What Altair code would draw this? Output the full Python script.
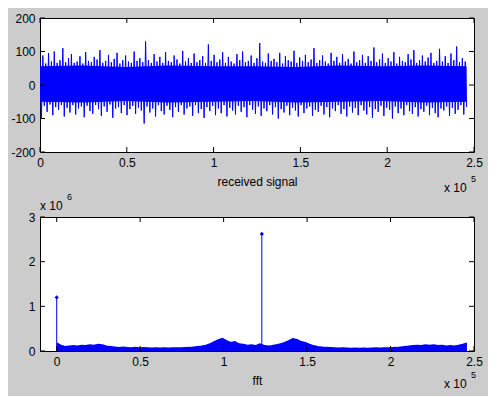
import altair as alt
import numpy as np
import pandas as pd

N_SAMPLES = 245760

# received signal: alternating peak / trough envelope
sig_upper = [
    72, 88, 64, 95, 70, 100, 66, 74, 110, 68,
    80, 92, 66, 70, 86, 64, 98, 72, 68, 84,
    76, 104, 66, 72, 90, 68, 78, 96, 64, 74,
    88, 70, 66, 100, 72, 80, 68, 130, 74, 66,
    92, 70, 84, 66, 98, 72, 68, 88, 76, 64,
    102, 70, 80, 66, 94, 68, 74, 86, 66, 121,
    72, 90, 68, 76, 98, 66, 84, 70, 64, 92,
    74, 100, 68, 72, 88, 66, 80, 125, 70, 66,
    94, 72, 78, 68, 96, 64, 86, 74, 70, 102,
    66, 82, 72, 90, 68, 76, 110, 66, 74, 88,
    70, 64, 96, 72, 84, 66, 92, 70, 78, 64,
    100, 68, 74, 90, 66, 86, 72, 112, 68, 76,
    94, 66, 80, 70, 98, 64, 84, 72, 68, 92,
    76, 104, 66, 74, 88, 70, 82, 96, 66, 72,
    108, 70, 86, 66, 94, 74, 115, 68, 80, 70]
sig_lower = [
    -98, -62, -80, -58, -90, -66, -74, -60, -94, -68,
    -82, -60, -88, -70, -64, -96, -62, -78, -86, -60,
    -72, -92, -64, -80, -58, -98, -70, -66, -84, -60,
    -90, -72, -62, -86, -68, -76, -115, -64, -82, -70,
    -94, -60, -78, -88, -62, -74, -96, -66, -80, -60,
    -88, -70, -64, -92, -60, -84, -72, -98, -66, -78,
    -62, -90, -70, -84, -60, -94, -68, -76, -88, -62,
    -80, -66, -96, -60, -74, -86, -64, -92, -70, -78,
    -60, -88, -66, -100, -72, -82, -62, -90, -68, -76,
    -94, -60, -84, -70, -64, -92, -74, -80, -62, -88,
    -66, -96, -70, -78, -60, -86, -72, -94, -64, -82,
    -68, -90, -60, -76, -88, -66, -98, -72, -80, -62,
    -92, -68, -74, -100, -64, -84, -70, -90, -60, -78,
    -86, -66, -94, -72, -80, -62, -90, -68, -84, -96,
    -70, -76, -64, -92, -68, -86, -74, -60, -88, -66]
core_top = [56, 58, 54, 58, 56, 56, 54, 58, 56, 58, 56]
core_bottom = [-50, -52, -48, -52, -50, -48, -52, -50, -48, -52, -50]

# fft magnitude envelope (units of 1e6)
fft_env = [
    0.17, 0.12, 0.09, 0.10, 0.11, 0.10, 0.12, 0.11, 0.13, 0.12,
    0.14, 0.13, 0.10, 0.09, 0.08, 0.07, 0.08, 0.07, 0.06, 0.07,
    0.06, 0.065, 0.06, 0.055, 0.06, 0.055, 0.06, 0.055, 0.06, 0.06,
    0.06, 0.065, 0.07, 0.08, 0.09, 0.10, 0.12, 0.15, 0.20, 0.24,
    0.27, 0.22, 0.18, 0.20, 0.15, 0.14, 0.12, 0.13, 0.11, 0.15,
    0.12, 0.10, 0.11, 0.13, 0.15, 0.18, 0.22, 0.27, 0.25, 0.20,
    0.18, 0.14, 0.11, 0.09, 0.08, 0.07, 0.065, 0.06, 0.055, 0.06,
    0.055, 0.05, 0.055, 0.05, 0.055, 0.05, 0.055, 0.06, 0.055, 0.06,
    0.06, 0.065, 0.07, 0.08, 0.09, 0.10, 0.11, 0.12, 0.11, 0.13,
    0.12, 0.13, 0.11, 0.12, 0.10, 0.11, 0.10, 0.12, 0.14, 0.17]
stem_x = [0, 122880]
stem_y = [1.2, 2.62]  # units of 1e6

top_xticks = [0, 50000, 100000, 150000, 200000, 250000]
top_yticks = [-200, -100, 0, 100, 200]
bot_xticks = [0, 50000, 100000, 150000, 200000, 250000]
bot_yticks = [0, 1e6, 2e6, 3e6]

BLUE = "#0000ff"
W, H = 434, 134
FONT = "Liberation Sans"

# ---------- shared scales / axes ----------
xs_top = alt.Scale(domain=[0, 250000], nice=False, zero=False)
ys_top = alt.Scale(domain=[-200, 200], nice=False)
xa_top = alt.Axis(values=top_xticks, title="received signal",
                  labelExpr="format(datum.value/100000, '~g')")
ya_top = alt.Axis(values=top_yticks, title=None, labelExpr="'' + datum.value")

xs_bot = alt.Scale(domain=[-10000, 250000], nice=False, zero=False)
ys_bot = alt.Scale(domain=[0, 3e6], nice=False)
xa_bot = alt.Axis(values=bot_xticks, title="fft",
                  labelExpr="format(datum.value/100000, '~g')")
ya_bot = alt.Axis(values=bot_yticks, title=None,
                  labelExpr="format(datum.value/1000000, '~g')")

# ---------- top panel ----------
zig = []
for u, l in zip(sig_upper, sig_lower):
    zig.extend([u, l])
sig_df = pd.DataFrame({"x": np.linspace(0, N_SAMPLES, len(zig)), "y": zig})
core_df = pd.DataFrame({"x": np.linspace(0, N_SAMPLES, len(core_top)),
                        "y": core_top, "y2": core_bottom})

core = alt.Chart(core_df).mark_area(color=BLUE, opacity=1).encode(
    x=alt.X("x:Q", scale=xs_top, axis=xa_top, title="received signal"),
    y=alt.Y("y:Q", scale=ys_top, axis=ya_top, title=None),
    y2="y2:Q")
sig = alt.Chart(sig_df).mark_line(color=BLUE, strokeWidth=1, clip=True).encode(
    x=alt.X("x:Q", scale=xs_top, axis=xa_top, title="received signal"),
    y=alt.Y("y:Q", scale=ys_top, axis=ya_top, title=None))


def tick_layers(xticks, yticks, xs, ys, xa, ya, xtitle):
    xt = pd.DataFrame({"x": xticks})
    yt = pd.DataFrame({"y": yticks})
    out = []
    for y0, y1 in [(H, H - 5), (0, 5)]:
        out.append(alt.Chart(xt).mark_rule(color="black", strokeWidth=1).encode(
            x=alt.X("x:Q", scale=xs, axis=xa, title=xtitle),
            y=alt.value(y0), y2=alt.value(y1)))
    for x0, x1 in [(0, 5), (W, W - 5)]:
        out.append(alt.Chart(yt).mark_rule(color="black", strokeWidth=1).encode(
            y=alt.Y("y:Q", scale=ys, axis=ya, title=None),
            x=alt.value(x0), x2=alt.value(x1)))
    return out


def txt(s, x, y, size=12):
    return alt.Chart(alt.Data(values=[{}])).mark_text(
        text=s, align="left", baseline="middle", font=FONT, fontSize=size,
        color="black").encode(x=alt.value(x), y=alt.value(y))


top = alt.layer(
    core, sig,
    *tick_layers(top_xticks, top_yticks, xs_top, ys_top, xa_top, ya_top, "received signal"),
    txt("x 10", 404, 170), txt("5", 431, 161, 9),
).properties(width=W, height=H)

# ---------- bottom panel ----------
fft_df = pd.DataFrame({"x": np.linspace(0, N_SAMPLES, len(fft_env)),
                       "y": [v * 1e6 for v in fft_env]})
stem_df = pd.DataFrame({"x": stem_x, "y": [v * 1e6 for v in stem_y]})

band = alt.Chart(fft_df).mark_area(color=BLUE, opacity=1, clip=True).encode(
    x=alt.X("x:Q", scale=xs_bot, axis=xa_bot, title="fft"),
    y=alt.Y("y:Q", scale=ys_bot, axis=ya_bot, title=None))
band_edge = alt.Chart(fft_df).mark_line(color=BLUE, strokeWidth=2, clip=True).encode(
    x=alt.X("x:Q", scale=xs_bot, axis=xa_bot, title="fft"),
    y=alt.Y("y:Q", scale=ys_bot, axis=ya_bot, title=None))
stems = alt.Chart(stem_df).mark_rule(color=BLUE, strokeWidth=1).encode(
    x=alt.X("x:Q", scale=xs_bot, axis=xa_bot, title="fft"),
    y=alt.Y("y:Q", scale=ys_bot, axis=ya_bot, title=None),
    y2=alt.datum(0))
heads = alt.Chart(stem_df).mark_point(shape="diamond", filled=True, size=18,
                                      color=BLUE, opacity=1).encode(
    x=alt.X("x:Q", scale=xs_bot, axis=xa_bot, title="fft"),
    y=alt.Y("y:Q", scale=ys_bot, axis=ya_bot, title=None))

bottom = alt.layer(
    band, band_edge, stems, heads,
    *tick_layers(bot_xticks, bot_yticks, xs_bot, ys_bot, xa_bot, ya_bot, "fft"),
    txt("x 10", 404, 167), txt("5", 431, 158, 9),
    txt("x 10", 0, -11), txt("6", 27, -20, 9),
).properties(width=W, height=H)

chart = alt.vconcat(top, bottom, spacing=65, bounds="flush").properties(
    padding={"left": 2, "top": 3, "right": 5, "bottom": 5},
).configure(background="#cccccc").configure_view(
    stroke="black", strokeWidth=1, fill="white"
).configure_axis(
    labelFont=FONT, labelFontSize=12, labelColor="black",
    titleFont=FONT, titleFontSize=12, titleFontWeight="normal", titleColor="black",
    ticks=False, domain=False, grid=False, labelPadding=5, titlePadding=8,
    labelOverlap=False, labelFlush=False,
)

chart.save("out.html", embed_options={"renderer": "svg", "actions": False})
